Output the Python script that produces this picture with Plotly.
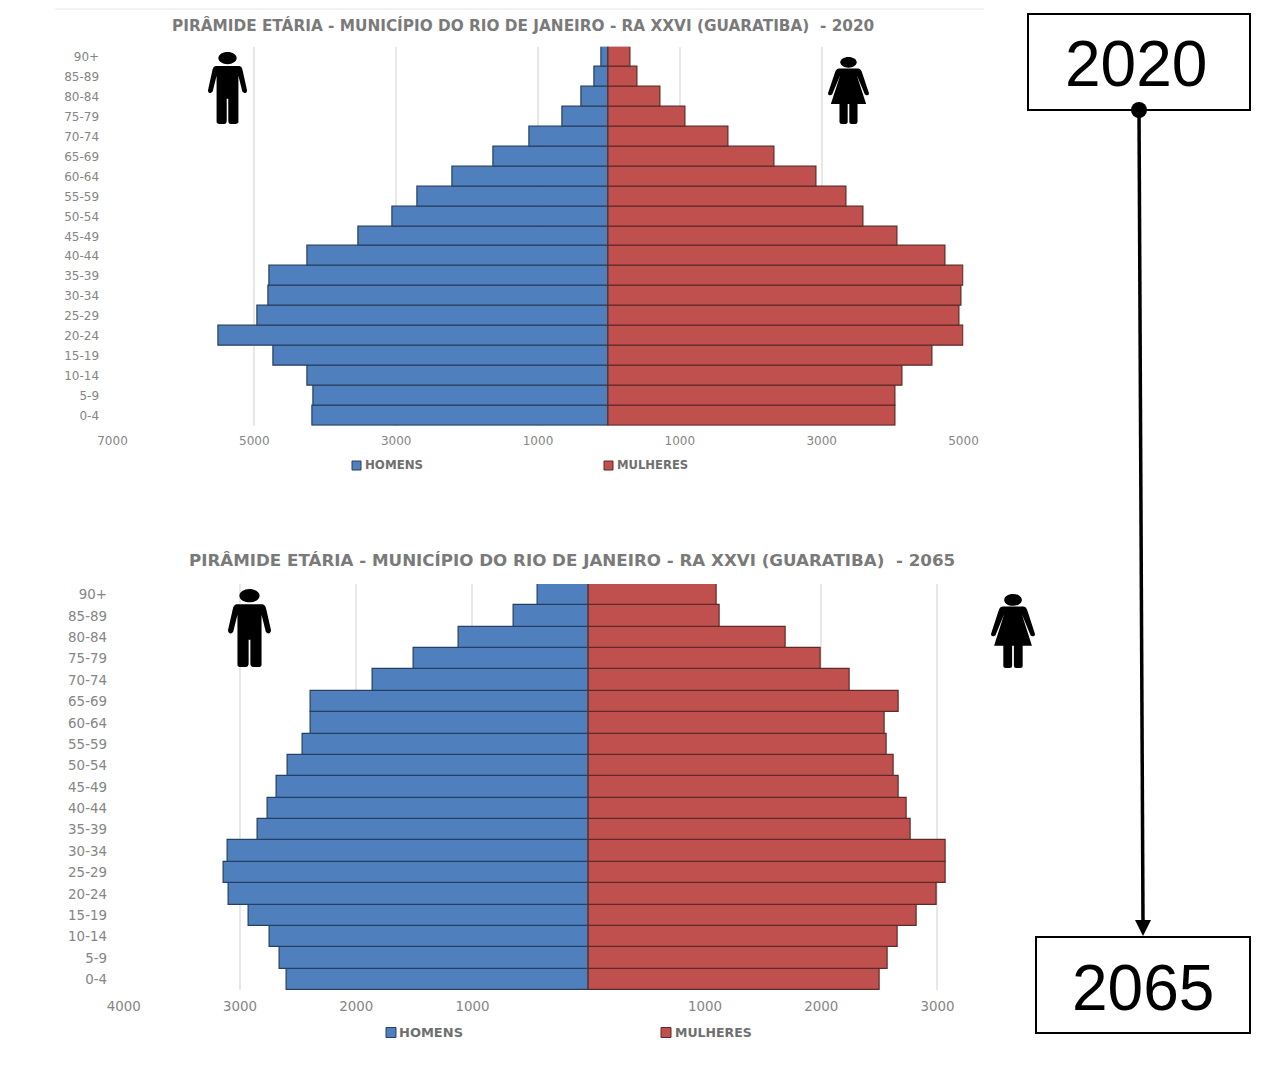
import plotly.graph_objects as go

W, H = 1263, 1073

age_groups = ["0-4", "5-9", "10-14", "15-19", "20-24", "25-29", "30-34", "35-39", "40-44", "45-49",
              "50-54", "55-59", "60-64", "65-69", "70-74", "75-79", "80-84", "85-89", "90+"]

men_2020 = [4183, 4169, 4254, 4732, 5507, 4958, 4803, 4789, 4254, 3535,
            3056, 2704, 2211, 1634, 1113, 648, 380, 197, 100]
women_2020 = [4042, 4042, 4141, 4563, 5000, 4944, 4972, 5000, 4746, 4070,
              3592, 3352, 2930, 2338, 1690, 1085, 732, 408, 310]
men_2065 = [2601, 2661, 2747, 2928, 3100, 3143, 3108, 2850, 2764, 2687,
            2592, 2463, 2395, 2395, 1862, 1509, 1122, 641, 443]
women_2065 = [2506, 2575, 2661, 2825, 2996, 3074, 3074, 2773, 2739, 2670,
              2627, 2566, 2549, 2670, 2248, 1999, 1698, 1131, 1105]

ticks_2020 = [-7000, -5000, -3000, -1000, 1000, 3000, 5000]
ticks_2065 = [-4000, -3000, -2000, -1000, 1000, 2000, 3000]

title_base = "PIRÂMIDE ETÁRIA - MUNICÍPIO DO RIO DE JANEIRO - RA XXVI (GUARATIBA)  - "

BLUE, BLUE_EDGE = "#4f7fbc", "#27405f"
RED, RED_EDGE = "#c0504d", "#5c2a29"
GREY = "#858585"
FONT = "DejaVu Sans"


def px(x):
    return x / W


def py(y):
    return 1 - y / H


def pyramid(fig, men, women, xaxis, yaxis):
    axis_refs = dict(xaxis=xaxis, yaxis=yaxis, orientation="h", y=age_groups, showlegend=False)
    fig.add_trace(go.Bar(x=[-v for v in men], name="HOMENS",
                         marker=dict(color=BLUE, line=dict(color=BLUE_EDGE, width=1.2)), **axis_refs))
    fig.add_trace(go.Bar(x=women, name="MULHERES",
                         marker=dict(color=RED, line=dict(color=RED_EDGE, width=1.2)), **axis_refs))


def x_axis(domain, rng, ticks, size, standoff, anchor):
    return dict(domain=domain, range=rng, tickvals=ticks, ticktext=[str(abs(t)) for t in ticks],
                showgrid=True, gridcolor="#e8e8e8", gridwidth=2, zeroline=False, showline=False,
                ticks="outside", ticklen=standoff, tickcolor="rgba(0,0,0,0)", anchor=anchor,
                tickfont=dict(family=FONT, size=size, color=GREY), fixedrange=True)


def y_axis(domain, size, standoff, anchor):
    return dict(domain=domain, type="category", categoryorder="array", categoryarray=age_groups,
                showgrid=False, zeroline=False, showline=False, anchor=anchor,
                ticks="outside", ticklen=standoff, tickcolor="rgba(0,0,0,0)",
                tickfont=dict(family=FONT, size=size, color=GREY), fixedrange=True)


def ellipse(cx, cy, rx, ry):
    k = 0.5523
    return (f"M{cx - rx},{cy} C{cx - rx},{cy - k * ry} {cx - k * rx},{cy - ry} {cx},{cy - ry} "
            f"C{cx + k * rx},{cy - ry} {cx + rx},{cy - k * ry} {cx + rx},{cy} "
            f"C{cx + rx},{cy + k * ry} {cx + k * rx},{cy + ry} {cx},{cy + ry} "
            f"C{cx - k * rx},{cy + ry} {cx - rx},{cy + k * ry} {cx - rx},{cy} Z")


# Pictogram outlines in a unit box, y pointing down; commands are (letter, x, y, ...)
MAN = [
    ("M", .20, .195), ("L", .80, .195), ("Q", .87, .20, .89, .26), ("L", 1, .53), ("Q", 1, .57, .93, .57),
    ("L", .88, .55), ("L", .78, .33), ("L", .78, .97), ("Q", .78, 1, .70, 1), ("L", .59, 1),
    ("Q", .52, 1, .52, .95), ("L", .52, .65), ("L", .48, .65), ("L", .48, .95), ("Q", .48, 1, .41, 1),
    ("L", .30, 1), ("Q", .22, 1, .22, .97), ("L", .22, .33), ("L", .12, .55), ("L", .07, .57),
    ("Q", 0, .57, 0, .53), ("L", .11, .26), ("Q", .13, .20, .20, .195),
]
WOMAN = [
    ("M", .27, .17), ("L", .73, .17), ("Q", .80, .17, .83, .23), ("L", 1, .54), ("Q", 1, .58, .94, .57),
    ("L", .90, .56), ("L", .70, .27), ("L", .93, .70), ("L", .72, .70), ("L", .72, .97),
    ("Q", .72, 1, .66, 1), ("L", .57, 1), ("Q", .52, 1, .52, .97), ("L", .52, .70), ("L", .48, .70),
    ("L", .48, .97), ("Q", .48, 1, .43, 1), ("L", .34, 1), ("Q", .28, 1, .28, .97), ("L", .28, .70),
    ("L", .07, .70), ("L", .30, .27), ("L", .10, .56), ("L", .06, .57), ("Q", 0, .58, 0, .54),
    ("L", .17, .23), ("Q", .20, .17, .27, .17),
]


def pictogram(outline, head, x0, y0, x1, y1):
    """Build paper-space shapes for a figure pictogram inside a pixel box."""
    sx, sy = x1 - x0, y1 - y0
    to_x = lambda u: round(px(x0 + u * sx), 5)
    to_y = lambda v: round(py(y0 + v * sy), 5)
    parts = []
    for cmd in outline:
        nums = cmd[1:]
        pts = [f"{to_x(nums[i])},{to_y(nums[i + 1])}" for i in range(0, len(nums), 2)]
        parts.append(cmd[0] + " ".join(pts))
    body = " ".join(parts) + " Z"
    hx, hy, hrx, hry = head
    head_path = ellipse(to_x(hx), to_y(hy), abs(hrx * sx / W), abs(hry * sy / H))
    style = dict(type="path", xref="paper", yref="paper", fillcolor="black", line=dict(width=0))
    return [dict(path=body, **style), dict(path=head_path, **style)]


fig = go.Figure()
pyramid(fig, men_2020, women_2020, "x", "y")
pyramid(fig, men_2065, women_2065, "x2", "y2")

man_head = (.5, .085, .235, .085)
woman_head = (.5, .08, .20, .08)
shapes = []
shapes += pictogram(MAN, man_head, 208, 52, 247, 124)
shapes += pictogram(WOMAN, woman_head, 828, 57, 869, 124)
shapes += pictogram(MAN, man_head, 228, 589, 271, 667)
shapes += pictogram(WOMAN, woman_head, 991, 594, 1035, 668)

line_style = dict(xref="paper", yref="paper")
# Header rule above the first chart
shapes.append(dict(type="line", x0=px(55), x1=px(984), y0=py(9), y1=py(9),
                   line=dict(color="#e6e6e6", width=1), **line_style))
# Year boxes
shapes.append(dict(type="rect", x0=px(1028), x1=px(1250), y0=py(14), y1=py(110),
                   line=dict(color="black", width=2), fillcolor="white", **line_style))
shapes.append(dict(type="rect", x0=px(1036), x1=px(1250), y0=py(937), y1=py(1033),
                   line=dict(color="black", width=2), fillcolor="white", **line_style))
# Connector between the two years: start dot, shaft and arrow head
shapes.append(dict(type="circle", x0=px(1131), x1=px(1147), y0=py(102), y1=py(118),
                   fillcolor="black", line=dict(width=0), **line_style))
shapes.append(dict(type="line", x0=px(1139), x1=px(1143), y0=py(110), y1=py(922),
                   line=dict(color="black", width=3.5), **line_style))
shapes.append(dict(type="path", xref="paper", yref="paper", fillcolor="black", line=dict(width=0),
                   path=f"M{px(1135)},{py(920)} L{px(1151)},{py(920)} L{px(1143)},{py(936)} Z"))


def label(text, x, y, size, color, family, weight="normal", anchor="center"):
    return dict(text=text, x=px(x), y=py(y), xref="paper", yref="paper", showarrow=False,
                xanchor=anchor, yanchor="middle", xshift=0,
                font=dict(family=family, size=size, color=color, weight=weight))


annotations = [
    label(title_base + "2020", 522.5, 26, 15.3, "#7a7a7a", FONT, "bold"),
    label(title_base + "2065", 572, 560, 16.7, "#7a7a7a", FONT, "bold"),
    label("2020", 1136, 64.5, 64, "black", "Liberation Sans"),
    label("2065", 1143, 987.5, 64, "black", "Liberation Sans"),
]


def legend_key(name, color, edge, x, y, side, size, text_x):
    """Small square swatch followed by its series name."""
    shapes.append(dict(type="rect", x0=px(x), x1=px(x + side), y0=py(y - side / 2), y1=py(y + side / 2),
                       fillcolor=color, line=dict(color=edge, width=1), **line_style))
    annotations.append(label(name, text_x, y, size, "#6f6f6f", FONT, "bold", "left"))


legend_key("HOMENS", BLUE, BLUE_EDGE, 352, 465.5, 9, 11.8, 363)
legend_key("MULHERES", RED, RED_EDGE, 604, 465.5, 9, 11.6, 615)
legend_key("HOMENS", BLUE, BLUE_EDGE, 386, 1032.5, 10, 13, 397)
legend_key("MULHERES", RED, RED_EDGE, 661, 1032.5, 10, 12.5, 673)

fig.update_layout(
    width=W, height=H, margin=dict(l=0, r=0, t=0, b=0, autoexpand=False), autosize=False,
    paper_bgcolor="white", plot_bgcolor="rgba(0,0,0,0)",
    barmode="overlay", bargap=0, showlegend=False,
    font=dict(family=FONT),
    xaxis=x_axis([px(112.5), px(963.5)], [-7000, 5000], ticks_2020, 12, 4, "y"),
    yaxis=y_axis([py(425.8), py(46.8)], 12, 10, "x"),
    xaxis2=x_axis([px(123.7), px(960.7)], [-4000, 3200], ticks_2065, 13.4, 4, "y2"),
    yaxis2=y_axis([py(990), py(584)], 13.4, 13, "x2"),
    shapes=shapes,
    annotations=annotations,
)

fig.write_html("out.html", config={"displayModeBar": False})
